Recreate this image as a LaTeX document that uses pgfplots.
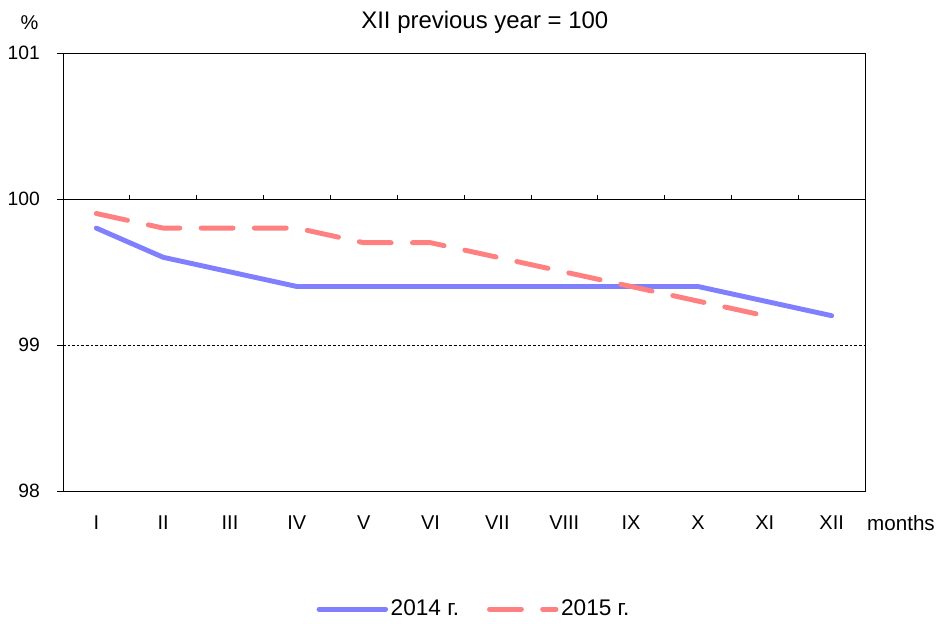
\documentclass[border=0pt]{standalone}
\usepackage{fontspec}
\setmainfont{Liberation Sans}
\usepackage{pgfplots}
\pgfplotsset{compat=1.18}
\definecolor{cblue}{RGB}{128,128,255}
\definecolor{cred}{RGB}{255,128,128}
\begin{document}
\fontsize{14}{16}\selectfont
\begin{tikzpicture}
\begin{axis}[
  at={(0pt,0pt)}, anchor=south west,
  scale only axis, width=603pt, height=329.25pt,
  xmin=0.5, xmax=12.5, ymin=98, ymax=101,
  xtick={1,...,12},
  xticklabels={I,II,III,IV,V,VI,VII,VIII,IX,X,XI,XII},
  ytick={98,99,100,101},
  ytick pos=left,
  x tick style={draw=none},
  y tick style={black, thin},
  tick align=outside,
  major tick length=4.5pt,
  /pgf/number format/assume math mode=true,
  yticklabel style={font=\fontsize{14.5}{16}\selectfont, xshift=-8pt},
  xticklabel style={font=\fontsize{15}{17}\selectfont, yshift=-9pt},
  axis line style={black, thin},
  clip=false,
  legend style={at={(0.513,-0.27)}, anchor=center, draw=none, legend columns=2,
    font=\fontsize{17}{19}\selectfont,
    /tikz/every even column/.append style={column sep=19pt}},
  legend cell align=left,
  legend image code/.code={\draw[#1, line cap=round] (0pt,0pt) -- (50pt,0pt);},
]
\draw[black, thin] (axis cs:0.5,100) -- (axis cs:12.5,100);
\draw[black, very thin, dash pattern=on 2pt off 1.5pt] (axis cs:0.5,99) -- (axis cs:12.5,99);
\pgfplotsinvokeforeach{1.5,2.5,3.5,4.5,5.5,6.5,7.5,8.5,9.5,10.5,11.5}{\draw[black, thin] (axis cs:#1,100) -- ([yshift=3pt]axis cs:#1,100);}
\addplot[cblue, line width=3.7pt, line cap=round, line join=round] coordinates {
 (1,99.8) (2,99.6) (3,99.5) (4,99.4) (5,99.4) (6,99.4) (7,99.4) (8,99.4) (9,99.4) (10,99.4) (11,99.3) (12,99.2)};
\addlegendentry{2014 г.}
\addplot[cred, line width=3.7pt, line cap=round, line join=round, dash pattern=on 24pt off 16pt] coordinates {
 (1,99.9) (2,99.8) (3,99.8) (4,99.8) (5,99.7) (6,99.7) (7,99.6) (8,99.5) (9,99.4) (10,99.3) (11,99.2)};
\addlegendentry{2015 г.}
\node[font=\fontsize{18}{20}\selectfont] at (rel axis cs:0.526,1) [yshift=23pt] {XII previous year = 100};
\node[font=\fontsize{15}{17}\selectfont] at (rel axis cs:0,1) [xshift=-25pt, yshift=23pt] {\%};
\node[font=\fontsize{15.5}{17}\selectfont] at (rel axis cs:1,0) [xshift=27pt, yshift=-24pt] {months};
\end{axis}
\useasboundingbox (-47.25pt,-99pt) rectangle (658.5pt,369pt);
\end{tikzpicture}
\end{document}
